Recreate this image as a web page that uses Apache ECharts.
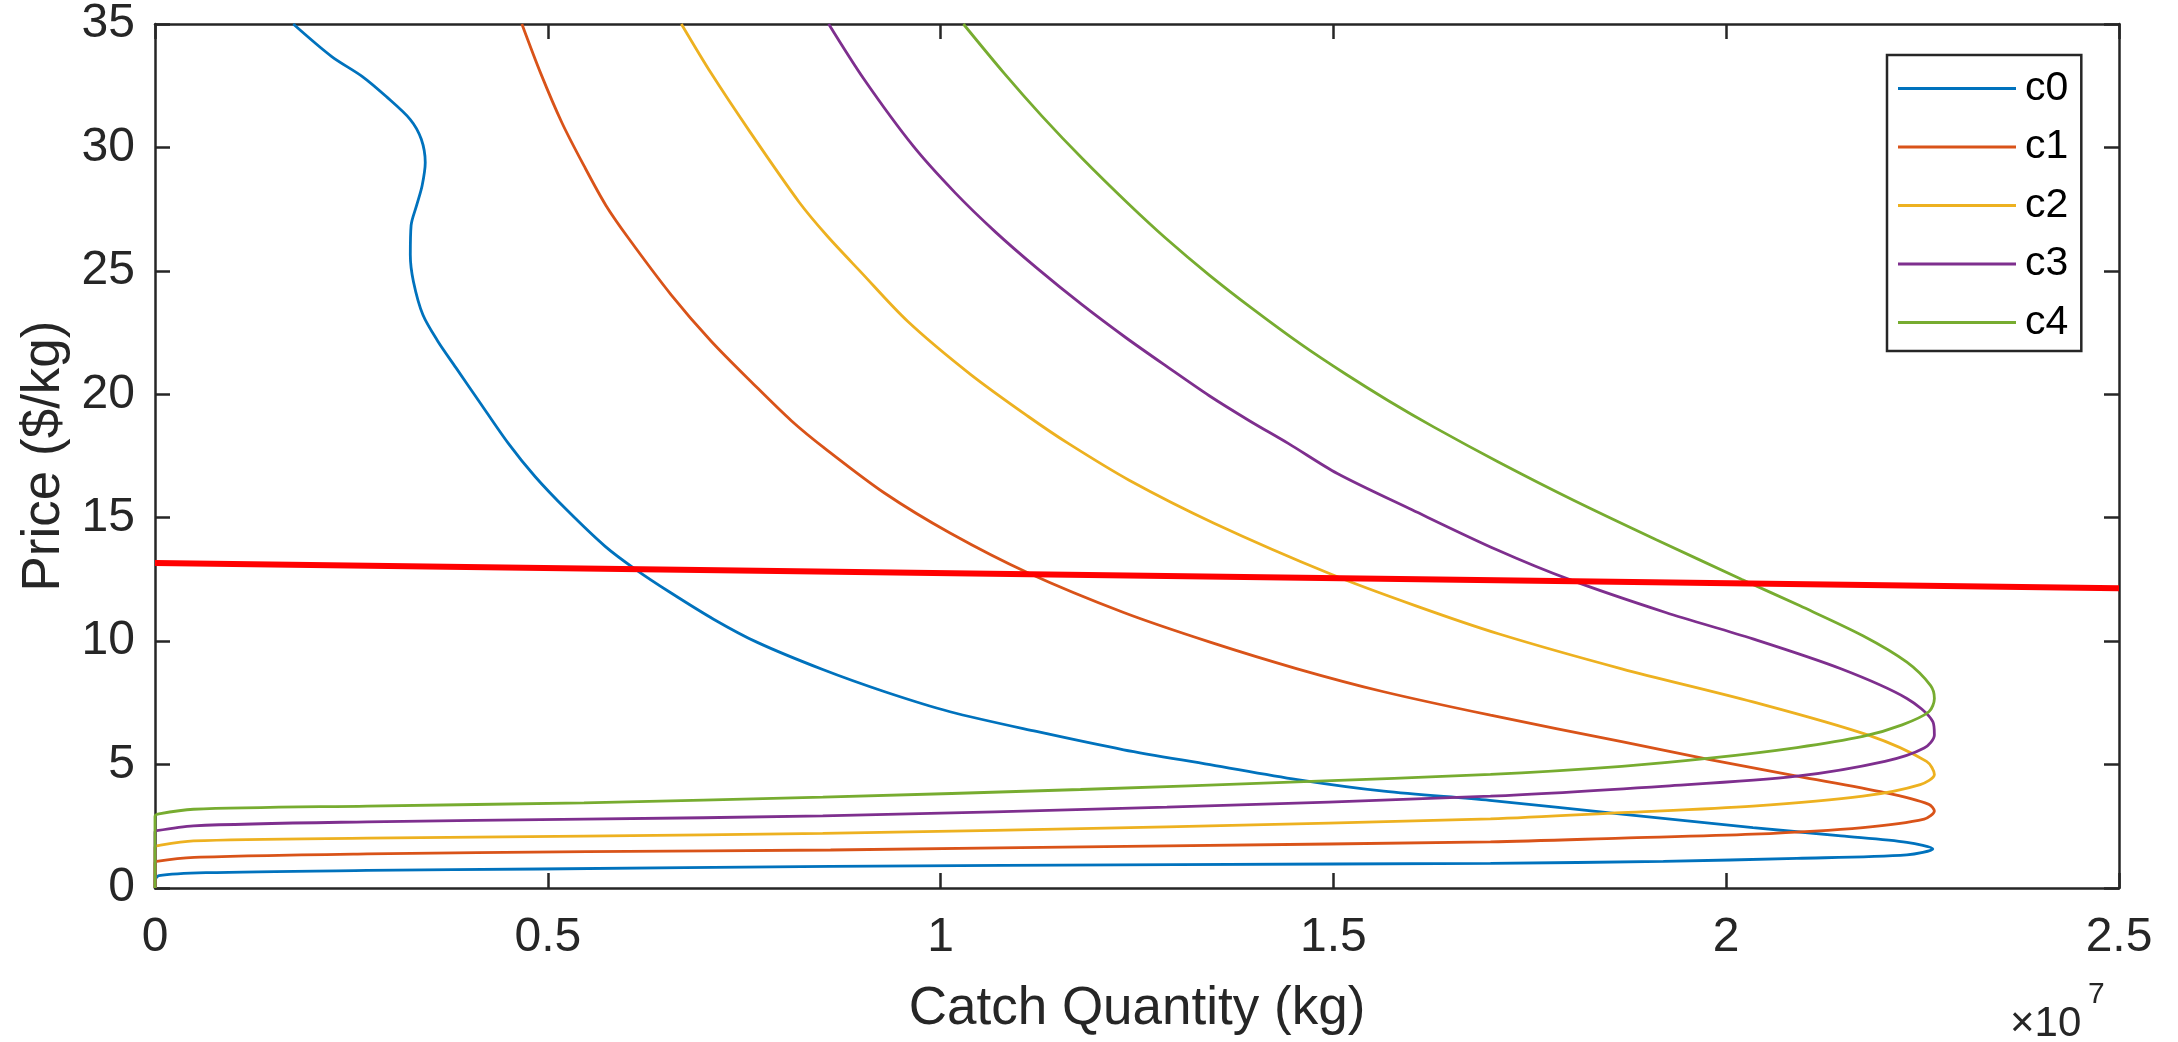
<!DOCTYPE html>
<html><head><meta charset="utf-8">
<script src="https://cdn.jsdelivr.net/npm/echarts@6/dist/echarts.min.js"></script>
<style>html,body{margin:0;padding:0;background:#fff}#c{width:2178px;height:1042px}</style>
</head><body><div id="c"></div>
<script>
// Quantities in units of 10^7 kg, prices in $/kg
const seriesNames = ['c0','c1','c2','c3','c4'];
const xTickValues = [0, 0.5, 1, 1.5, 2, 2.5];
const yTickValues = [0, 5, 10, 15, 20, 25, 30, 35];

const c0Qty   = [0,0,0.005,0.065,0.27,0.49,0.86,1.3,1.7,1.92,2.09,2.23,2.263,2.23,2.146,2.034,1.867,1.699,1.564,1.454,1.343,1.233,1.122,1.012,0.929,0.85,0.766,0.711,0.656,0.612,0.573,0.524,0.484,0.45,0.412,0.383,0.36,0.341,0.329,0.325,0.326,0.333,0.34,0.344,0.339,0.325,0.294,0.264,0.225,0.176];
const c0Price = [0,0.3,0.5,0.62,0.71,0.77,0.88,0.95,1.0,1.08,1.2,1.34,1.58,1.85,2.11,2.45,2.99,3.55,3.92,4.39,5.0,5.6,6.34,7.14,7.95,8.85,9.96,10.89,11.97,12.9,13.84,15.32,16.66,18.0,19.74,21.08,22.15,23.22,24.56,25.64,26.84,27.65,28.45,29.39,30.33,31.13,32.07,32.87,33.68,35.0];

const c1Qty   = [0,0,0.002,0.05,0.27,0.55,0.86,1.29,1.70,1.867,2.034,2.174,2.252,2.265,2.258,2.202,2.09,1.979,1.867,1.70,1.564,1.454,1.343,1.233,1.111,1.012,0.929,0.853,0.81,0.762,0.708,0.657,0.603,0.574,0.546,0.518,0.491,0.467];
const c1Price = [0,1.0,1.08,1.24,1.38,1.47,1.54,1.71,1.87,2.02,2.18,2.45,2.79,3.12,3.39,3.86,4.53,5.2,5.93,7.0,7.95,8.88,9.96,11.16,12.77,14.38,15.99,17.8,18.93,20.41,22.15,24.03,26.31,27.65,29.26,31.0,33.0,35.0];

const c2Qty   = [0,0,0.002,0.049,0.27,0.546,0.85,1.288,1.70,1.867,2.034,2.174,2.247,2.265,2.255,2.18,2.034,1.867,1.71,1.605,1.498,1.348,1.24,1.163,1.113,1.038,0.958,0.898,0.856,0.82,0.758,0.708,0.670];
const c2Price = [0,1.65,1.71,1.91,2.02,2.10,2.21,2.48,2.80,3.05,3.32,3.72,4.19,4.6,5.13,6.2,7.54,8.88,10.3,11.43,12.7,14.78,16.52,18.0,19.07,20.81,22.96,24.97,26.4,27.78,30.6,33.0,35.0];

const c3Qty   = [0,0,0.002,0.049,0.27,0.546,0.85,1.288,1.70,1.923,2.09,2.202,2.252,2.265,2.263,2.23,2.146,2.034,1.923,1.8,1.708,1.6,1.505,1.443,1.393,1.342,1.29,1.236,1.18,1.123,1.07,1.018,0.965,0.903,0.8575];
const c3Price = [0,2.25,2.32,2.52,2.68,2.79,2.92,3.28,3.72,4.13,4.53,5.13,5.67,6.2,6.74,7.68,8.88,10.09,11.16,12.5,13.7,15.32,16.79,18.0,18.93,19.94,21.08,22.29,23.63,25.1,26.57,28.18,30.06,32.74,35.0];

const c4Qty   = [0,0,0.005,0.049,0.27,0.546,0.85,1.178,1.454,1.70,1.867,1.979,2.09,2.174,2.224,2.258,2.265,2.26,2.23,2.174,2.094,2.02,1.911,1.805,1.71,1.628,1.57,1.516,1.459,1.396,1.342,1.287,1.237,1.181,1.129,1.081,1.029];
const c4Price = [0,2.9,3.0,3.19,3.32,3.45,3.68,3.99,4.30,4.60,4.93,5.26,5.69,6.14,6.61,7.14,7.68,8.21,9.15,10.22,11.43,12.5,14.11,15.72,17.26,18.67,19.74,20.81,22.02,23.49,24.83,26.31,27.78,29.53,31.27,33.0,35.0];

const priceLineQty   = [0, 2.5];
const priceLinePrice = [13.17, 12.14];

const colors = ['#0072BD','#D95319','#EDB120','#7E2F8E','#77AC30'];
const FONT = 'Liberation Sans, Arial, sans-serif';
const AX = '#262626';

const zip = (a, b) => a.map((v, i) => [v, b[i]]);
const curves = [[c0Qty,c0Price],[c1Qty,c1Price],[c2Qty,c2Price],[c3Qty,c3Price],[c4Qty,c4Price]];

const series = curves.map((c, i) => ({
  name: seriesNames[i], type: 'line', data: zip(c[0], c[1]),
  showSymbol: false, symbol: 'none', smooth: 0.3,
  lineStyle: { color: colors[i], width: 2.8 }, itemStyle: { color: colors[i] },
  z: 2 + i, silent: true
}));
series.push({
  name: 'price', type: 'line', data: zip(priceLineQty, priceLinePrice),
  showSymbol: false, symbol: 'none', lineStyle: { color: '#FF0000', width: 6 },
  itemStyle: { color: '#FF0000' }, z: 10, silent: true
});

const axisCommon = {
  type: 'value', splitLine: { show: false },
  axisLine: { show: true, onZero: false, lineStyle: { color: AX, width: 2.5 } },
  axisTick: { show: true, inside: true, length: 15, lineStyle: { color: AX, width: 2.5 } }
};

const chart = echarts.init(document.getElementById('c'), null, { renderer: 'canvas' });
chart.setOption({
  animation: false,
  backgroundColor: '#fff',
  grid: { left: 155, right: 59, top: 18, bottom: 154, containLabel: false },
  xAxis: [
    Object.assign({}, axisCommon, {
      position: 'bottom', min: xTickValues[0], max: xTickValues[xTickValues.length-1], interval: 0.5,
      axisLabel: { fontSize: 48, color: AX, fontFamily: FONT, margin: 26,
        formatter: v => String(+v.toFixed(1)) },
      name: 'Catch Quantity (kg)', nameLocation: 'middle', nameGap: 95,
      nameTextStyle: { fontSize: 53, color: AX, fontFamily: FONT }
    }),
    Object.assign({}, axisCommon, {
      position: 'top', min: xTickValues[0], max: xTickValues[xTickValues.length-1], interval: 0.5,
      axisLabel: { show: false }
    })
  ],
  yAxis: [
    Object.assign({}, axisCommon, {
      position: 'left', min: yTickValues[0], max: yTickValues[yTickValues.length-1], interval: 5,
      axisLabel: { fontSize: 48, color: AX, fontFamily: FONT, margin: 20 },
      name: 'Price ($/kg)', nameLocation: 'middle', nameGap: 84,
      nameTextStyle: { fontSize: 53, color: AX, fontFamily: FONT }
    }),
    Object.assign({}, axisCommon, {
      position: 'right', min: yTickValues[0], max: yTickValues[yTickValues.length-1], interval: 5,
      axisLabel: { show: false }
    })
  ],
  legend: {
    data: seriesNames, orient: 'vertical', left: 1887, top: 55,
    padding: [13, 13, 8, 11], itemGap: 17.5, itemWidth: 118, itemHeight: 3, icon: 'rect',
    borderColor: AX, borderWidth: 2.5, backgroundColor: '#fff',
    textStyle: { fontSize: 41, lineHeight: 41, color: '#000', fontFamily: FONT, padding: [0, 0, 0, 4] }
  },
  graphic: [
    { type: 'text', left: 2010, top: 1003, style: { text: '×10', fontSize: 42, fill: AX, fontFamily: FONT } },
    { type: 'text', left: 2088, top: 980, style: { text: '7', fontSize: 30, fill: AX, fontFamily: FONT } }
  ],
  series: series
});
</script>
</body></html>
